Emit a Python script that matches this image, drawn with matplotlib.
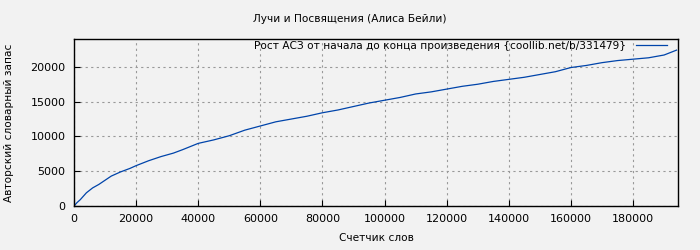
import matplotlib
matplotlib.use("Agg")
from matplotlib import pyplot as plt

# Word counter vs. author vocabulary size
words = [0, 1000, 2000, 4000, 6000, 8000, 10000, 12000, 15000, 18000, 20000,
         24000, 28000, 32000, 35000, 40000, 45000, 50000, 55000, 60000, 65000,
         70000, 75000, 80000, 85000, 90000, 95000, 100000, 105000, 110000,
         115000, 120000, 125000, 130000, 135000, 140000, 145000, 150000,
         155000, 160000, 165000, 170000, 175000, 180000, 185000, 190000, 194000]
vocab = [0, 500, 900, 1900, 2600, 3100, 3700, 4300, 4900, 5400, 5800,
         6500, 7100, 7600, 8100, 9000, 9500, 10100, 10900, 11500, 12100,
         12500, 12900, 13400, 13800, 14300, 14800, 15200, 15600, 16100,
         16400, 16800, 17200, 17500, 17900, 18200, 18500, 18900,
         19300, 19900, 20200, 20600, 20900, 21100, 21300, 21700, 22400]

title = "Лучи и Посвящения (Алиса Бейли)"
label = "Рост АСЗ от начала до конца произведения {coollib.net/b/331479}"

plt.rcParams["font.family"] = "DejaVu Sans"
plt.rcParams["font.size"] = 7.6

fig = plt.figure(figsize=(7, 2.5), dpi=100, facecolor="#f2f2f2")
ax = fig.add_axes([0.1057, 0.176, 0.863, 0.668], facecolor="#f2f2f2")

ax.plot(words, vocab, color="#0044aa", lw=0.9, label=label)

ax.set_xlim(0, 194500)
ax.set_ylim(0, 24000)
ax.set_xticks(range(0, 190000, 20000))
ax.set_yticks(range(0, 25000, 5000))
ax.grid(True, color="#999999", linestyle=(0, (2, 3)), lw=0.8)
ax.tick_params(direction="in", length=4, width=0.8, pad=6, colors="black",
               labelsize=8)
for s in ax.spines.values():
    s.set_linewidth(1)

ax.set_xlabel("Счетчик слов", labelpad=6)
ax.set_ylabel("Авторский словарный запас", labelpad=12)
fig.text(0.5, 0.925, title, ha="center", va="center")

ax.legend(loc="upper right", markerfirst=False, frameon=False,
          handlelength=3.0, borderaxespad=0.0, borderpad=0.15,
          handletextpad=0.9, bbox_to_anchor=(0.985, 1.0))

fig.savefig("out.png", dpi=100, facecolor=fig.get_facecolor())
